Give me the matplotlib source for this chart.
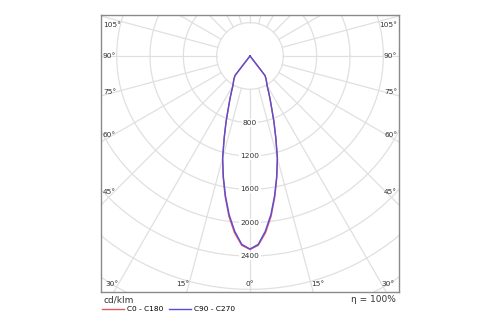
import numpy as np
import matplotlib
matplotlib.use('Agg')
import matplotlib.pyplot as plt

# Luminous intensity (cd/klm) versus gamma angle, 0° = straight down
gamma = [0, 2.5, 5, 7.5, 10, 12.5, 15, 17.5, 20, 22.5, 25, 27.5, 30, 32.5, 35, 37.5,
         40, 50, 60, 70, 80, 90, 100, 110, 120, 130, 140, 150, 160, 170, 180]
c0_c180 = [2322, 2274, 2130, 1940, 1715, 1488, 1270, 1030, 840, 680, 570, 480, 410, 370, 335, 295,
           0, 0, 0, 0, 0, 0, 0, 0, 0, 0, 0, 0, 0, 0, 0]
c90_c270 = [2316, 2262, 2110, 1920, 1700, 1480, 1270, 1030, 840, 680, 570, 480, 410, 370, 335, 295,
            0, 0, 0, 0, 0, 0, 0, 0, 0, 0, 0, 0, 0, 0, 0]

ring_values = [400, 800, 1200, 1600, 2000, 2400, 2800, 3200, 3600]
ring_labels = [800, 1200, 1600, 2000, 2400]
side_angles = [45, 60, 75, 90, 105]
bottom_angles = [0, 15, 30]
unit_label = 'cd/klm'
efficiency = 'η = 100%'

grid_c = '#e0e0e0'
red = '#e05a64'
blue = '#5a4cd4'

fig = plt.figure(figsize=(5, 3.25), dpi=100)
ax = fig.add_axes([0.202, 0.103, 0.596, 0.851])

xmax = 1788
ymin, ymax = -2826, 492
ax.set_xlim(-xmax, xmax)
ax.set_ylim(ymin, ymax)
ax.set_xticks([])
ax.set_yticks([])
for s in ax.spines.values():
    s.set_color('#8a8a8a')
    s.set_linewidth(1.0)

# circles
t = np.linspace(0, 2 * np.pi, 400)
for r in ring_values:
    ax.plot(r * np.cos(t), r * np.sin(t), color=grid_c, lw=0.9, zorder=1)

# radial lines every 15°, starting at the innermost ring
for a in range(0, 360, 15):
    ar = np.radians(a)
    ax.plot([400 * np.sin(ar), 5000 * np.sin(ar)], [-400 * np.cos(ar), -5000 * np.cos(ar)],
            color=grid_c, lw=0.9, zorder=1)


def polar_curve(vals):
    g = np.array(gamma, dtype=float)
    v = np.array(vals, dtype=float)
    ang = np.radians(np.concatenate([-g[::-1], g[1:]]))
    rr = np.concatenate([v[::-1], v[1:]])
    return rr * np.sin(ang), -rr * np.cos(ang)


x, y = polar_curve(c0_c180)
ax.plot(x, y, color=red, lw=1.0, zorder=3, label='C0 - C180')
x, y = polar_curve(c90_c270)
ax.plot(x, y, color=blue, lw=1.0, zorder=4, label='C90 - C270')

font = 'DejaVu Sans'
fs = 5.3
for v in ring_labels:
    ax.text(0, -v, str(v), ha='center', va='center', fontsize=fs, family=font, color='#333333',
            zorder=5, bbox=dict(boxstyle='square,pad=0.15', fc='white', ec='none'))

# angle labels along the sides
lab_dx = 1632
for a in side_angles:
    yy = -lab_dx / np.tan(np.radians(a)) if a != 90 else 0.0
    yy = min(yy, ymax - 125)
    ax.text(-xmax + 22, yy, f'{a}°', ha='left', va='center', fontsize=fs, family=font, color='#333333', zorder=5)
    ax.text(xmax - 22, yy, f'{a}°', ha='right', va='center', fontsize=fs, family=font, color='#333333', zorder=5)

# angle labels along the bottom
lab_y = -2736
for a in bottom_angles:
    xx = lab_y * np.tan(np.radians(a))
    if a == 0:
        ax.text(0, lab_y, f'{a}°', ha='center', va='center', fontsize=fs, family=font, color='#333333', zorder=5)
    else:
        ax.text(xx, lab_y, f'{a}°', ha='right', va='center', fontsize=fs, family=font, color='#333333', zorder=5)
        ax.text(-xx, lab_y, f'{a}°', ha='left', va='center', fontsize=fs, family=font, color='#333333', zorder=5)

fig.text(0.206, 0.077, unit_label, ha='left', va='center', fontsize=6.5, family=font, color='#333333')
fig.text(0.792, 0.077, efficiency, ha='right', va='center', fontsize=6.5, family=font, color='#333333')

handles, labels = ax.get_legend_handles_labels()
fig.legend(handles, labels, loc='center left', bbox_to_anchor=(0.204, 0.048), ncol=2, frameon=False,
           prop={'family': font, 'size': fs}, handlelength=3.0, handletextpad=0.4, columnspacing=0.7,
           borderpad=0, borderaxespad=0)

fig.savefig('out.png', dpi=100, facecolor='white')
